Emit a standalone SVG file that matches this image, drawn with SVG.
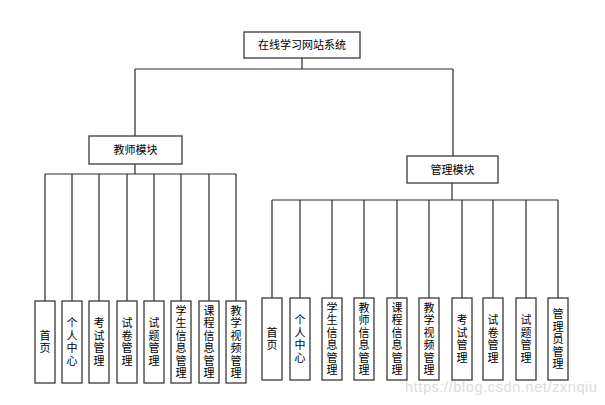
<svg xmlns="http://www.w3.org/2000/svg" width="605" height="405" viewBox="0 0 605 405">
<style>
.box{fill:#fff;stroke:#3a3a3a;stroke-width:1.3}
.ln{fill:none;stroke:#2a2a2a;stroke-width:1.2}
.t{font-family:"Noto Sans CJK SC","Liberation Sans",sans-serif;font-size:11px;fill:#000;text-anchor:middle}
.wm{font-family:"Liberation Sans",Arial,sans-serif;font-size:14.5px;fill:#dcdcdc}
</style>
<rect width="605" height="405" fill="#fff"/>
<g id="connectors">
<path class="ln" d="M302 58V69M135 69H453M135 69V136M453 69V156"/>
<path class="ln" d="M135 164V174M45 174H236M45 174V301M72 174V301M99 174V301M127 174V301M154 174V301M181 174V301M209 174V301M236 174V301"/>
<path class="ln" d="M452 183V200M272 200H558M272 200V298M300 200V298M332 200V298M364 200V298M397 200V298M429 200V298M462 200V298M493 200V298M526 200V298M558 200V298"/>
</g>
<g id="root"><rect class="box" x="244" y="32" width="116" height="26"/><text class="t" x="302" y="49">在线学习网站系统</text></g>
<g id="teacher"><rect class="box" x="89" y="136" width="93" height="28"/><text class="t" x="135.5" y="154">教师模块</text></g>
<g id="admin"><rect class="box" x="407" y="156" width="91" height="27"/><text class="t" x="452.5" y="173.5">管理模块</text></g>

<g id="t1"><rect class="box" x="35" y="301" width="20" height="82"/><text class="t" y="339.75"><tspan x="45">首</tspan><tspan x="45" dy="12.5">页</tspan></text></g>
<g id="t2"><rect class="box" x="62" y="301" width="20" height="82"/><text class="t" y="327.25"><tspan x="72">个</tspan><tspan x="72" dy="12.5">人</tspan><tspan x="72" dy="12.5">中</tspan><tspan x="72" dy="12.5">心</tspan></text></g>
<g id="t3"><rect class="box" x="89" y="301" width="20" height="82"/><text class="t" y="327.25"><tspan x="99">考</tspan><tspan x="99" dy="12.5">试</tspan><tspan x="99" dy="12.5">管</tspan><tspan x="99" dy="12.5">理</tspan></text></g>
<g id="t4"><rect class="box" x="117" y="301" width="20" height="82"/><text class="t" y="327.25"><tspan x="127">试</tspan><tspan x="127" dy="12.5">卷</tspan><tspan x="127" dy="12.5">管</tspan><tspan x="127" dy="12.5">理</tspan></text></g>
<g id="t5"><rect class="box" x="144" y="301" width="20" height="82"/><text class="t" y="327.25"><tspan x="154">试</tspan><tspan x="154" dy="12.5">题</tspan><tspan x="154" dy="12.5">管</tspan><tspan x="154" dy="12.5">理</tspan></text></g>
<g id="t6"><rect class="box" x="171" y="301" width="20" height="82"/><text class="t" y="314.75"><tspan x="181">学</tspan><tspan x="181" dy="12.5">生</tspan><tspan x="181" dy="12.5">信</tspan><tspan x="181" dy="12.5">息</tspan><tspan x="181" dy="12.5">管</tspan><tspan x="181" dy="12.5">理</tspan></text></g>
<g id="t7"><rect class="box" x="199" y="301" width="20" height="82"/><text class="t" y="314.75"><tspan x="209">课</tspan><tspan x="209" dy="12.5">程</tspan><tspan x="209" dy="12.5">信</tspan><tspan x="209" dy="12.5">息</tspan><tspan x="209" dy="12.5">管</tspan><tspan x="209" dy="12.5">理</tspan></text></g>
<g id="t8"><rect class="box" x="226" y="301" width="20" height="82"/><text class="t" y="314.75"><tspan x="236">教</tspan><tspan x="236" dy="12.5">学</tspan><tspan x="236" dy="12.5">视</tspan><tspan x="236" dy="12.5">频</tspan><tspan x="236" dy="12.5">管</tspan><tspan x="236" dy="12.5">理</tspan></text></g>

<g id="a1"><rect class="box" x="262" y="298" width="20" height="82"/><text class="t" y="336.75"><tspan x="272">首</tspan><tspan x="272" dy="12.5">页</tspan></text></g>
<g id="a2"><rect class="box" x="290" y="298" width="20" height="82"/><text class="t" y="324.25"><tspan x="300">个</tspan><tspan x="300" dy="12.5">人</tspan><tspan x="300" dy="12.5">中</tspan><tspan x="300" dy="12.5">心</tspan></text></g>
<g id="a3"><rect class="box" x="322" y="298" width="20" height="82"/><text class="t" y="311.75"><tspan x="332">学</tspan><tspan x="332" dy="12.5">生</tspan><tspan x="332" dy="12.5">信</tspan><tspan x="332" dy="12.5">息</tspan><tspan x="332" dy="12.5">管</tspan><tspan x="332" dy="12.5">理</tspan></text></g>
<g id="a4"><rect class="box" x="354" y="298" width="20" height="82"/><text class="t" y="311.75"><tspan x="364">教</tspan><tspan x="364" dy="12.5">师</tspan><tspan x="364" dy="12.5">信</tspan><tspan x="364" dy="12.5">息</tspan><tspan x="364" dy="12.5">管</tspan><tspan x="364" dy="12.5">理</tspan></text></g>
<g id="a5"><rect class="box" x="387" y="298" width="20" height="82"/><text class="t" y="311.75"><tspan x="397">课</tspan><tspan x="397" dy="12.5">程</tspan><tspan x="397" dy="12.5">信</tspan><tspan x="397" dy="12.5">息</tspan><tspan x="397" dy="12.5">管</tspan><tspan x="397" dy="12.5">理</tspan></text></g>
<g id="a6"><rect class="box" x="419" y="298" width="20" height="82"/><text class="t" y="311.75"><tspan x="429">教</tspan><tspan x="429" dy="12.5">学</tspan><tspan x="429" dy="12.5">视</tspan><tspan x="429" dy="12.5">频</tspan><tspan x="429" dy="12.5">管</tspan><tspan x="429" dy="12.5">理</tspan></text></g>
<g id="a7"><rect class="box" x="452" y="298" width="20" height="82"/><text class="t" y="324.25"><tspan x="462">考</tspan><tspan x="462" dy="12.5">试</tspan><tspan x="462" dy="12.5">管</tspan><tspan x="462" dy="12.5">理</tspan></text></g>
<g id="a8"><rect class="box" x="483" y="298" width="20" height="82"/><text class="t" y="324.25"><tspan x="493">试</tspan><tspan x="493" dy="12.5">卷</tspan><tspan x="493" dy="12.5">管</tspan><tspan x="493" dy="12.5">理</tspan></text></g>
<g id="a9"><rect class="box" x="516" y="298" width="20" height="82"/><text class="t" y="324.25"><tspan x="526">试</tspan><tspan x="526" dy="12.5">题</tspan><tspan x="526" dy="12.5">管</tspan><tspan x="526" dy="12.5">理</tspan></text></g>
<g id="a10"><rect class="box" x="548" y="298" width="20" height="82"/><text class="t" y="318"><tspan x="558">管</tspan><tspan x="558" dy="12.5">理</tspan><tspan x="558" dy="12.5">员</tspan><tspan x="558" dy="12.5">管</tspan><tspan x="558" dy="12.5">理</tspan></text></g>

<text class="wm" x="405" y="392" textLength="192">https://blog.csdn.net/zxnqiu</text>
</svg>
